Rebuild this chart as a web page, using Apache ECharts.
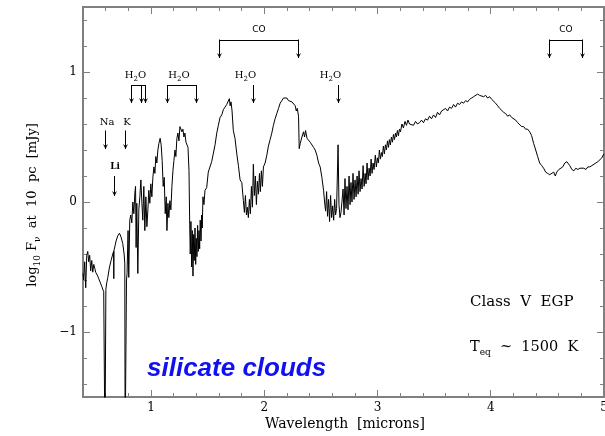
<!DOCTYPE html>
<html>
<head>
<meta charset="utf-8">
<script src="https://cdn.jsdelivr.net/npm/echarts@6/dist/echarts.min.js"></script>
<style>
  html, body { margin: 0; padding: 0; background: #ffffff; }
  #chart { width: 605px; height: 436px; }
</style>
</head>
<body>
<div id="chart"></div>
<script>
// Model emergent spectrum, Class V EGP, silicate clouds
const wavelength = [
  0.400, 0.406, 0.415, 0.424, 0.433, 0.442, 0.450, 0.459, 0.468, 0.477,
  0.486, 0.495, 0.504, 0.512, 0.521, 0.530, 0.539, 0.548, 0.557, 0.566,
  0.574, 0.583, 0.590, 0.594, 0.598, 0.602, 0.610, 0.619, 0.634, 0.648,
  0.663, 0.670, 0.672, 0.674, 0.685, 0.692, 0.707, 0.722, 0.736, 0.751,
  0.763, 0.769, 0.772, 0.776, 0.780, 0.784, 0.789, 0.798, 0.804, 0.813,
  0.822, 0.831, 0.840, 0.849, 0.858, 0.864, 0.869, 0.875, 0.884, 0.893,
  0.902, 0.911, 0.920, 0.928, 0.937, 0.946, 0.955, 0.964, 0.973, 0.981,
  0.990, 0.999, 1.008, 1.017, 1.026, 1.035, 1.043, 1.052, 1.061, 1.070,
  1.081, 1.090, 1.099, 1.108, 1.117, 1.126, 1.135, 1.141, 1.150, 1.158,
  1.167, 1.176, 1.185, 1.194, 1.203, 1.212, 1.220, 1.229, 1.238, 1.247,
  1.256, 1.265, 1.273, 1.282, 1.291, 1.300, 1.309, 1.318, 1.327, 1.336,
  1.342, 1.347, 1.353, 1.359, 1.365, 1.371, 1.377, 1.382, 1.389, 1.395,
  1.400, 1.406, 1.412, 1.418, 1.424, 1.430, 1.435, 1.442, 1.448, 1.453,
  1.459, 1.468, 1.477, 1.492, 1.506, 1.521, 1.536, 1.550, 1.566, 1.581,
  1.595, 1.610, 1.625, 1.639, 1.654, 1.669, 1.681, 1.692, 1.699, 1.707,
  1.716, 1.727, 1.742, 1.758, 1.772, 1.787, 1.802, 1.816, 1.825, 1.834,
  1.843, 1.851, 1.860, 1.869, 1.878, 1.887, 1.896, 1.904, 1.913, 1.922,
  1.931, 1.940, 1.949, 1.958, 1.966, 1.975, 1.984, 1.993, 2.008, 2.023,
  2.037, 2.052, 2.067, 2.081, 2.096, 2.111, 2.126, 2.141, 2.156, 2.170,
  2.185, 2.200, 2.214, 2.230, 2.245, 2.258, 2.274, 2.283, 2.292, 2.303,
  2.309, 2.318, 2.333, 2.347, 2.356, 2.365, 2.378, 2.392, 2.406, 2.421,
  2.436, 2.450, 2.465, 2.480, 2.494, 2.509, 2.524, 2.533, 2.542, 2.551,
  2.559, 2.568, 2.577, 2.586, 2.595, 2.604, 2.613, 2.622, 2.630, 2.639,
  2.652, 2.660, 2.669, 2.678, 2.687, 2.696, 2.705, 2.713, 2.722, 2.731,
  2.740, 2.749, 2.758, 2.766, 2.775, 2.784, 2.793, 2.802, 2.811, 2.820,
  2.829, 2.837, 2.846, 2.855, 2.864, 2.873, 2.882, 2.891, 2.899, 2.908,
  2.917, 2.926, 2.935, 2.944, 2.952, 2.961, 2.970, 2.981, 2.990, 2.999,
  3.008, 3.017, 3.026, 3.035, 3.043, 3.052, 3.061, 3.070, 3.079, 3.088,
  3.097, 3.105, 3.114, 3.123, 3.132, 3.141, 3.150, 3.159, 3.167, 3.176,
  3.185, 3.194, 3.203, 3.216, 3.229, 3.243, 3.256, 3.269, 3.283, 3.300,
  3.318, 3.336, 3.353, 3.371, 3.389, 3.406, 3.424, 3.442, 3.459, 3.477,
  3.495, 3.513, 3.530, 3.548, 3.566, 3.583, 3.601, 3.619, 3.636, 3.654,
  3.672, 3.689, 3.707, 3.725, 3.742, 3.760, 3.778, 3.796, 3.813, 3.831,
  3.849, 3.866, 3.884, 3.902, 3.919, 3.937, 3.955, 3.972, 3.990, 4.008,
  4.025, 4.043, 4.061, 4.079, 4.096, 4.114, 4.132, 4.149, 4.167, 4.185,
  4.202, 4.220, 4.238, 4.255, 4.273, 4.291, 4.308, 4.326, 4.344, 4.361,
  4.379, 4.397, 4.414, 4.432, 4.450, 4.467, 4.485, 4.503, 4.521, 4.538,
  4.556, 4.570, 4.583, 4.601, 4.618, 4.636, 4.654, 4.672, 4.687, 4.698,
  4.716, 4.734, 4.751, 4.769, 4.787, 4.804, 4.822, 4.840, 4.857, 4.875,
  4.893, 4.910, 4.928, 4.946, 4.963, 4.981, 4.999
];

const logFlux = [
  -0.55, -0.60, -0.46, -0.66, -0.41, -0.38, -0.46, -0.41, -0.53, -0.45,
  -0.54, -0.48, -0.51, -0.54, -0.53, -0.57, -0.59, -0.60, -0.63, -0.65,
  -0.67, -0.69, -0.70, -1.90, -1.90, -0.67, -0.62, -0.58, -0.50, -0.45,
  -0.40, -0.38, -0.59, -0.37, -0.33, -0.30, -0.26, -0.24, -0.27, -0.32,
  -0.40, -0.47, -1.90, -1.90, -1.90, -0.60, -0.55, -0.22, -0.58, -0.14,
  -0.10, -0.16, 0.00, -0.09, 0.07, 0.12, -0.35, -0.01, -0.55, -0.06,
  0.04, 0.17, -0.01, -0.14, 0.12, -0.22, 0.04, -0.19, -0.06, 0.09,
  -0.01, 0.14, 0.04, 0.19, 0.27, 0.22, 0.35, 0.30, 0.40, 0.45,
  0.49, 0.44, 0.32, 0.12, 0.19, -0.09, 0.04, -0.22, -0.01, -0.12,
  0.01, -0.06, 0.12, 0.24, 0.32, 0.40, 0.35, 0.49, 0.53, 0.47,
  0.58, 0.59, 0.54, 0.56, 0.50, 0.53, 0.46, 0.45, 0.42, 0.24,
  -0.17, -0.40, -0.15, -0.50, -0.22, -0.57, -0.25, -0.45, -0.20, -0.48,
  -0.28, -0.42, -0.18, -0.38, -0.22, -0.36, -0.14, -0.30, -0.10, -0.20,
  0.04, -0.02, 0.09, 0.11, 0.23, 0.245, 0.31, 0.37, 0.44, 0.53,
  0.59, 0.65, 0.67, 0.71, 0.73, 0.75, 0.76, 0.795, 0.74, 0.77,
  0.70, 0.55, 0.49, 0.37, 0.28, 0.17, 0.15, 0.01, -0.08, 0.05,
  -0.10, -0.04, -0.12, 0.02, -0.09, 0.12, -0.04, 0.29, 0.05, 0.20,
  -0.02, 0.16, 0.06, 0.22, 0.08, 0.24, 0.12, 0.27, 0.30, 0.36,
  0.43, 0.48, 0.53, 0.59, 0.64, 0.68, 0.72, 0.76, 0.78, 0.80,
  0.79, 0.80, 0.78, 0.79, 0.77, 0.76, 0.74, 0.70, 0.72, 0.66,
  0.41, 0.45, 0.50, 0.54, 0.50, 0.55, 0.49, 0.50, 0.46, 0.47,
  0.42, 0.40, 0.36, 0.30, 0.27, 0.19, 0.09, 0.00, -0.07, 0.08,
  -0.11, 0.02, -0.15, 0.05, -0.12, -0.03, -0.14, 0.02, -0.10, -0.05,
  0.44, -0.02, -0.12, -0.08, -0.09, 0.10, -0.10, 0.18, -0.05, 0.12,
  -0.06, 0.20, -0.02, 0.15, 0.00, 0.22, 0.02, 0.17, 0.04, 0.20,
  0.06, 0.24, 0.08, 0.18, 0.10, 0.28, 0.12, 0.22, 0.14, 0.30,
  0.17, 0.26, 0.20, 0.33, 0.22, 0.30, 0.25, 0.36, 0.27, 0.34,
  0.30, 0.40, 0.33, 0.38, 0.35, 0.43, 0.37, 0.44, 0.40, 0.47,
  0.42, 0.48, 0.44, 0.50, 0.46, 0.52, 0.48, 0.53, 0.50, 0.55,
  0.51, 0.56, 0.54, 0.60, 0.57, 0.62, 0.59, 0.63, 0.60, 0.61,
  0.59, 0.62, 0.60, 0.61, 0.63, 0.61, 0.64, 0.63, 0.66, 0.64,
  0.67, 0.65, 0.69, 0.67, 0.70, 0.69, 0.72, 0.70, 0.73, 0.72,
  0.75, 0.73, 0.76, 0.75, 0.77, 0.76, 0.78, 0.77, 0.79, 0.80,
  0.81, 0.82, 0.83, 0.82, 0.82, 0.81, 0.82, 0.80, 0.81, 0.79,
  0.78, 0.76, 0.74, 0.72, 0.71, 0.69, 0.68, 0.66, 0.67, 0.65,
  0.64, 0.63, 0.61, 0.60, 0.58, 0.58, 0.56, 0.56, 0.54, 0.51,
  0.45, 0.40, 0.35, 0.30, 0.28, 0.26, 0.23, 0.22, 0.21, 0.22,
  0.23, 0.20, 0.23, 0.25, 0.26, 0.27, 0.30, 0.31, 0.32, 0.28,
  0.25, 0.24, 0.26, 0.25, 0.26, 0.25, 0.26, 0.25, 0.27, 0.27,
  0.28, 0.29, 0.30, 0.31, 0.32, 0.34, 0.37
];

// Axis tick labels
const xTickLabels = [1, 2, 3, 4, 5];
const yTickLabels = [-1, 0, 1];

// Absorption features marked above the spectrum (microns)
const coBands = [[1.60, 2.30], [4.51, 4.81]];
const waterBands = [[0.82, 0.916, 0.945], [1.14, 1.40], [1.90], [2.655]];
const alkaliLines = [['Na', 0.598], ['K', 0.774]];
const lithiumLine = ['Li', 0.677];

const X_MIN = 0.4, X_MAX = 5, Y_MIN = -1.5, Y_MAX = 1.5;
const SERIF = '"DejaVu Serif", "Liberation Serif", serif';
const FRAME = '#808080';

function minorValues(lo, hi, step, majors) {
  const out = [];
  for (let k = Math.round(lo / step); k * step <= hi + 1e-9; k++) {
    const v = +(k * step).toFixed(4);
    if (v >= lo - 1e-9 && v < hi - 1e-9 && majors.indexOf(v) < 0) out.push(v);
  }
  return out;
}
const xMinor = minorValues(X_MIN, X_MAX, 0.2, xTickLabels);
const yMinor = minorValues(Y_MIN + 0.1, Y_MAX, 0.2, yTickLabels);

function frameAxis(kind, position, ticks, len, labels) {
  const ax = {
    type: 'value',
    position: position,
    min: kind === 'x' ? X_MIN : Y_MIN,
    max: kind === 'x' ? X_MAX : Y_MAX,
    splitLine: { show: false },
    axisLine: { show: true, onZero: false, lineStyle: { color: FRAME, width: 2 } },
    axisTick: { show: true, inside: true, length: len, customValues: ticks, lineStyle: { color: FRAME, width: 1 } },
    axisLabel: { show: false }
  };
  if (labels) {
    ax.axisLabel = {
      show: true,
      customValues: labels,
      fontFamily: SERIF,
      fontSize: 12,
      color: '#000',
      margin: kind === 'x' ? 5 : 6,
      formatter: v => (v < 0 ? '\u2212' + Math.abs(v) : String(v))
    };
  }
  return ax;
}

const chart = echarts.init(document.getElementById('chart'), null, { renderer: 'canvas' });

const option = {
  animation: false,
  backgroundColor: '#ffffff',
  grid: { left: 83, right: 1, top: 7, bottom: 39, containLabel: false, outerBoundsMode: 'none' },
  xAxis: [
    frameAxis('x', 'bottom', xTickLabels, 7, xTickLabels),
    frameAxis('x', 'bottom', xMinor, 4, null),
    frameAxis('x', 'top', xTickLabels, 7, null),
    frameAxis('x', 'top', xMinor, 4, null)
  ],
  yAxis: [
    frameAxis('y', 'left', yTickLabels, 7, yTickLabels),
    frameAxis('y', 'left', yMinor, 4, null),
    frameAxis('y', 'right', yTickLabels, 7, null),
    frameAxis('y', 'right', yMinor, 4, null)
  ],
  series: [{
    type: 'line',
    xAxisIndex: 0,
    yAxisIndex: 0,
    data: wavelength.map((w, i) => [w, logFlux[i]]),
    showSymbol: false,
    symbol: 'none',
    clip: true,
    lineStyle: { color: '#000000', width: 1 },
    z: 3
  }]
};
chart.setOption(option);

// Annotations: feature arrows, titles and captions
const P = (x, y) => chart.convertToPixel({ xAxisIndex: 0, yAxisIndex: 0 }, [x, y]);
const snap = v => Math.round(v) + 0.5;
const els = [];

function vline(x, y1, y2) {
  els.push({ type: 'line', silent: true, z: 10,
    shape: { x1: x, y1: y1, x2: x, y2: y2 }, style: { stroke: '#000', lineWidth: 1 } });
}
function hline(x1, x2, y) {
  els.push({ type: 'line', silent: true, z: 10,
    shape: { x1: x1, y1: y, x2: x2, y2: y }, style: { stroke: '#000', lineWidth: 1 } });
}
function arrow(lambda, yTop, yTip) {
  const x = snap(P(lambda, 0)[0]);
  const t = P(lambda, yTop)[1], b = Math.round(P(lambda, yTip)[1]);
  vline(x, t, b);
  els.push({ type: 'polygon', silent: true, z: 10,
    shape: { points: [[x - 2.5, b - 5], [x, b], [x + 2.5, b - 5], [x, b - 3]] },
    style: { fill: '#000' } });
  return x;
}
function label(text, x, y, font, rich) {
  els.push({ type: 'text', silent: true, z: 10, x: x, y: y,
    style: { text: text, font: font, fill: '#000', align: 'center', verticalAlign: 'middle', rich: rich || {} } });
}
const subRich = {
  n: { fontFamily: SERIF, fontSize: 10, lineHeight: 14, verticalAlign: 'middle' },
  s: { fontFamily: SERIF, fontSize: 7, verticalAlign: 'bottom' }
};

function bracket(waves, barY, tipY) {
  const xs = waves.map(w => snap(P(w, 0)[0]));
  const yb = snap(P(0, barY)[1]);
  if (xs.length > 1) hline(xs[0], xs[xs.length - 1], yb);
  waves.forEach(w => arrow(w, barY, tipY));
  return xs;
}

// CO band heads
coBands.forEach(b => {
  const xs = bracket(b, 1.25, 1.105);
  label('CO', (xs[0] + xs[xs.length - 1]) / 2, P(0, 1.325)[1], '9px "DejaVu Sans", sans-serif');
});
// H2O bands
waterBands.forEach(b => {
  const xs = bracket(b, 0.9, 0.76);
  const cx = (xs[0] + xs[xs.length - 1]) / 2 - (xs.length > 1 ? 3 : 8);
  label('{n|H}{s|2}{n|O}', cx, P(0, 0.975)[1], '10px ' + SERIF, subRich);
});
// Alkali lines
alkaliLines.forEach(([name, w]) => {
  const x = arrow(w, 0.55, 0.41);
  label(name, x + 1.5, P(0, 0.615)[1], '10px ' + SERIF);
});
{
  const x = arrow(lithiumLine[1], 0.2, 0.05);
  label(lithiumLine[0], x + 0.5, P(0, 0.275)[1], 'bold 9px ' + SERIF);
}

// Axis titles
els.push({ type: 'text', silent: true, x: 33, y: 205, rotation: Math.PI / 2,
  style: { text: '{n|log}{s|10}{n| F}{s|\u03bd}{n|  at  10  pc  [mJy]}', align: 'center', verticalAlign: 'middle', fill: '#000',
    rich: {
      n: { fontFamily: SERIF, fontSize: 13, lineHeight: 18, verticalAlign: 'middle' },
      s: { fontFamily: SERIF, fontSize: 9, verticalAlign: 'bottom' }
    } } });
els.push({ type: 'text', silent: true, x: 345, y: 424,
  style: { text: 'Wavelength  [microns]', font: '14px ' + SERIF, fill: '#000', align: 'center', verticalAlign: 'middle' } });

// Captions
els.push({ type: 'text', silent: true, x: 470, y: 302,
  style: { text: 'Class  V  EGP', font: '15px ' + SERIF, fill: '#000', align: 'left', verticalAlign: 'middle' } });
els.push({ type: 'text', silent: true, x: 470, y: 347,
  style: { text: '{n|T}{s|eq}{n|  ~  1500  K}', align: 'left', verticalAlign: 'middle', fill: '#000',
    rich: {
      n: { fontFamily: SERIF, fontSize: 14.5, lineHeight: 20, verticalAlign: 'middle' },
      s: { fontFamily: SERIF, fontSize: 9, verticalAlign: 'bottom' }
    } } });
els.push({ type: 'text', silent: true, x: 147, y: 369,
  style: { text: 'silicate clouds', font: 'italic bold 26px "Liberation Sans", Arial, sans-serif', fill: '#1010f0',
    align: 'left', verticalAlign: 'middle' } });

chart.setOption({ graphic: { elements: els } });
</script>
</body>
</html>
